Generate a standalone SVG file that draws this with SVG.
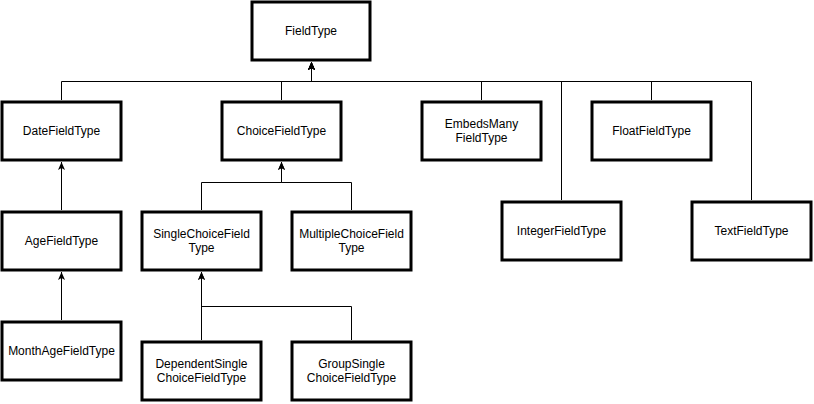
<svg xmlns="http://www.w3.org/2000/svg" width="814" height="404" viewBox="0 0 814 404">
<style>
.box{fill:#fff;stroke:#000;stroke-width:3}
.lbl{font-family:"Liberation Sans",Arial,Helvetica,sans-serif;font-size:12px;fill:#000;text-anchor:middle}
.edge{fill:none;stroke:#000;stroke-width:1;marker-end:url(#arr)}
</style>
<defs>
<marker id="arr" markerUnits="userSpaceOnUse" viewBox="0 0 8 8" markerWidth="8" markerHeight="8" refX="8" refY="4" orient="auto">
<path d="M0,0.5 L8,4 L0,7.5 L2,4 z" fill="#000"/>
</marker>
</defs>
<rect width="814" height="404" fill="#fff"/>
<g id="connectors">
<path class="edge" d="M61.5,100 V81.5 H311.5 V62"/>
<path class="edge" d="M281.5,100 V81.5 H311.5 V62"/>
<path class="edge" d="M481.5,100 V81.5 H311.5 V62"/>
<path class="edge" d="M561.5,200 V81.5 H311.5 V62"/>
<path class="edge" d="M651.5,100 V81.5 H311.5 V62"/>
<path class="edge" d="M751.5,200 V81.5 H311.5 V62"/>
<path class="edge" d="M61.5,210 V162"/>
<path class="edge" d="M61.5,320 V272"/>
<path class="edge" d="M201.5,210 V182.5 H281.5 V162"/>
<path class="edge" d="M351.5,210 V182.5 H281.5 V162"/>
<path class="edge" d="M201.5,340 V272"/>
<path class="edge" d="M351.5,340 V306.5 H201.5 V272"/>
</g>
<g id="FieldType"><rect class="box" x="252" y="2" width="118" height="58"/><text class="lbl" x="311" y="35">FieldType</text></g>
<g id="DateFieldType"><rect class="box" x="2" y="102" width="119" height="58"/><text class="lbl" x="61.5" y="135">DateFieldType</text></g>
<g id="ChoiceFieldType"><rect class="box" x="222" y="102" width="119" height="58"/><text class="lbl" x="281.5" y="135">ChoiceFieldType</text></g>
<g id="EmbedsManyFieldType"><rect class="box" x="422" y="102" width="119" height="58"/><text class="lbl" x="481.5" y="128">EmbedsMany</text><text class="lbl" x="481.5" y="142">FieldType</text></g>
<g id="FloatFieldType"><rect class="box" x="592" y="102" width="119" height="58"/><text class="lbl" x="651.5" y="135">FloatFieldType</text></g>
<g id="IntegerFieldType"><rect class="box" x="502" y="202" width="119" height="58"/><text class="lbl" x="561.5" y="235">IntegerFieldType</text></g>
<g id="TextFieldType"><rect class="box" x="692" y="202" width="119" height="58"/><text class="lbl" x="751.5" y="235">TextFieldType</text></g>
<g id="AgeFieldType"><rect class="box" x="2" y="212" width="119" height="58"/><text class="lbl" x="61.5" y="245">AgeFieldType</text></g>
<g id="SingleChoiceFieldType"><rect class="box" x="142" y="212" width="119" height="58"/><text class="lbl" x="201.5" y="238">SingleChoiceField</text><text class="lbl" x="201.5" y="252">Type</text></g>
<g id="MultipleChoiceFieldType"><rect class="box" x="292" y="212" width="119" height="58"/><text class="lbl" x="351.5" y="238">MultipleChoiceField</text><text class="lbl" x="351.5" y="252">Type</text></g>
<g id="MonthAgeFieldType"><rect class="box" x="2" y="322" width="119" height="58"/><text class="lbl" x="61.5" y="355">MonthAgeFieldType</text></g>
<g id="DependentSingleChoiceFieldType"><rect class="box" x="142" y="342" width="119" height="58"/><text class="lbl" x="201.5" y="368">DependentSingle</text><text class="lbl" x="201.5" y="382">ChoiceFieldType</text></g>
<g id="GroupSingleChoiceFieldType"><rect class="box" x="292" y="342" width="119" height="58"/><text class="lbl" x="351.5" y="368">GroupSingle</text><text class="lbl" x="351.5" y="382">ChoiceFieldType</text></g>
</svg>
